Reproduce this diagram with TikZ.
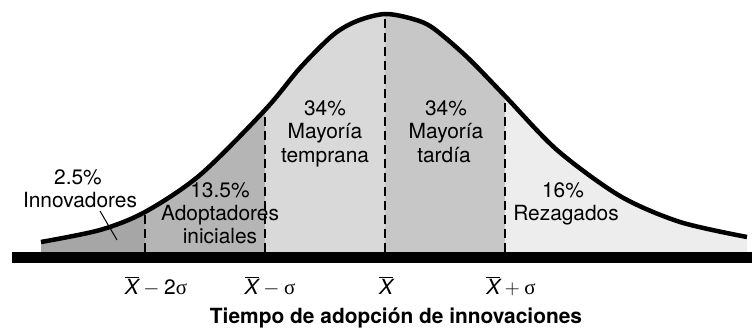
\documentclass[tikz,border=0pt]{standalone}
\usepackage{fontspec}
\setmainfont{TeX Gyre Heros}
\newfontfamily\greekserif{Liberation Serif}
\definecolor{cA}{gray}{0.65}
\definecolor{cB}{gray}{0.71}
\definecolor{cC}{gray}{0.85}
\definecolor{cD}{gray}{0.78}
\definecolor{cE}{gray}{0.93}
\newcommand\xbarsym{\overline{\hbox{\itshape X}}}
\begin{document}
\begin{tikzpicture}[x=1pt,y=-1pt,
  lbl/.style={anchor=base, inner sep=0pt, font=\fontsize{20.9}{23.5}\selectfont},
  ttl/.style={anchor=base, inner sep=0pt, font=\fontsize{20.9}{23.5}\selectfont\bfseries},
  dashline/.style={line width=1.8pt, dash pattern=on 9pt off 5pt},
  curveline/.style={line width=4.5pt, line cap=butt, line join=round},
  pointer/.style={line width=1pt}]
\useasboundingbox (0,0) rectangle (752,329);
\def\curvepath{plot[smooth,tension=0.5] coordinates {(41,242) (100,230) (145,212) (200,175) (265,110) (300,68) (333,35) (357,21) (385,14) (413,19) (433,28) (467,57) (505,96) (557,150) (620,196) (680,222) (747,237)}}
\begin{scope}
  \clip \curvepath -- (747,253) -- (41,253) -- cycle;
  \fill[cA] (0,0) rectangle (145,253);
  \fill[cB] (145,0) rectangle (265,253);
  \fill[cC] (265,0) rectangle (385,253);
  \fill[cD] (385,0) rectangle (505,253);
  \fill[cE] (505,0) rectangle (752,253);
  \draw[dashline] (145,252) -- (145,0);
  \draw[dashline] (265,252) -- (265,0);
  \draw[dashline] (385,252) -- (385,0);
  \draw[dashline] (505,252) -- (505,0);
\end{scope}
\draw[curveline] \curvepath;
\fill[black] (12,252) rectangle (752,263);
% labels
\node[lbl] (inA) at (78,184) {2.5\%};
\node[lbl] (inB) at (80,207) {Innovadores};
\coordinate (ptrA) at (100,211);
\coordinate (ptrB) at (117,240);
\draw[pointer] (ptrA) -- (ptrB);
\node[lbl] (adA) at (220,197) {13.5\%};
\node[lbl] (adB) at (220,220) {Adoptadores};
\node[lbl] (adC) at (220,243) {iniciales};
\node[lbl] (mtA) at (325,115) {34\%};
\node[lbl] (mtB) at (325,138) {Mayoría};
\node[lbl] (mtC) at (325,162) {temprana};
\node[lbl] (mdA) at (446,115) {34\%};
\node[lbl] (mdB) at (446,138) {Mayoría};
\node[lbl] (mdC) at (444,162) {tardía};
\node[lbl] (rzA) at (563,197) {16\%};
\node[lbl] (rzB) at (566,220) {Rezagados};
% axis labels
\node[lbl] (ax1) at (156,294) {$\xbarsym - \hbox{2\greekserif σ}$};
\node[lbl] (ax2) at (270,294) {$\xbarsym - \hbox{\greekserif σ}$};
\node[lbl] (ax3) at (386,294) {$\xbarsym$};
\node[lbl] (ax4) at (511,294) {$\xbarsym + \hbox{\greekserif σ}$};
\node[ttl] (title) at (396,323) {Tiempo de adopción de innovaciones};
\end{tikzpicture}
\end{document}
